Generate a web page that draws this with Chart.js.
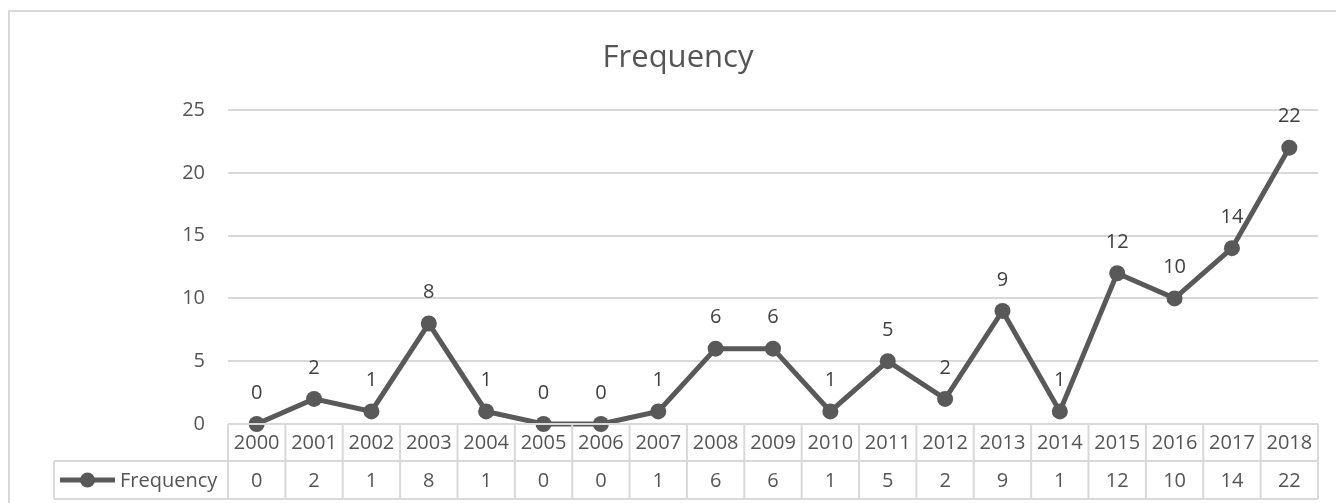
<!DOCTYPE html>
<html><head><meta charset="utf-8">
<script src="https://cdn.jsdelivr.net/npm/chart.js@4"></script>
<style>html,body{margin:0;padding:0;background:#fff;overflow:hidden}#wrap{position:absolute;left:0;top:0;width:1336px;height:503px}</style>
</head><body><div id="wrap"><canvas id="c" width="1336" height="503"></canvas></div>
<script>
const chartTitle = 'Frequency';
const seriesName = 'Frequency';
const categories = ['2000','2001','2002','2003','2004','2005','2006','2007','2008','2009','2010','2011','2012','2013','2014','2015','2016','2017','2018'];
const frequency = [0,2,1,8,1,0,0,1,6,6,1,5,2,9,1,12,10,14,22];
const yTicks = [0,5,10,15,20,25];

const FONT = '"Open Sans", "Liberation Sans", sans-serif';
const TXT = '#555555';
const GRID = '#d9d9d9';
const LINE = '#595959';

const frame = {
  id: 'frame',
  beforeDraw(chart) {
    const ctx = chart.ctx;
    ctx.save();
    ctx.fillStyle = '#fff';
    ctx.fillRect(0, 0, chart.width, chart.height);
    ctx.strokeStyle = GRID; ctx.lineWidth = 2;
    ctx.strokeRect(9, 11, chart.width + 20, chart.height + 20);
    ctx.font = '31px ' + FONT;
    ctx.fillStyle = TXT;
    ctx.textAlign = 'center'; ctx.textBaseline = 'alphabetic';
    ctx.fillText(chartTitle, 678, 67);
    ctx.restore();
  }
};

const dataLabels = {
  id: 'dataLabels',
  afterDatasetsDraw(chart) {
    const ctx = chart.ctx;
    const meta = chart.getDatasetMeta(0);
    ctx.save();
    ctx.font = '20px ' + FONT;
    ctx.fillStyle = '#404040';
    ctx.textAlign = 'center'; ctx.textBaseline = 'middle';
    meta.data.forEach((pt, i) => {
      ctx.fillText(String(frequency[i]), pt.x, pt.y - 31);
    });
    ctx.restore();
  }
};

const dataTable = {
  id: 'dataTable',
  afterDraw(chart) {
    const ctx = chart.ctx;
    const xs = chart.scales.x;
    const area = chart.chartArea;
    const n = categories.length;
    const w = xs.getPixelForValue(1) - xs.getPixelForValue(0);
    const top = area.bottom, mid = top + 37, bot = top + 75;
    const legendLeft = 54;
    const left = xs.getPixelForValue(0) - w / 2;
    const right = xs.getPixelForValue(n - 1) + w / 2;
    ctx.save();
    ctx.strokeStyle = GRID; ctx.lineWidth = 2;
    ctx.beginPath();
    ctx.moveTo(left, top); ctx.lineTo(right, top);
    ctx.moveTo(legendLeft, mid); ctx.lineTo(right, mid);
    ctx.moveTo(legendLeft, bot); ctx.lineTo(right, bot);
    for (let i = 0; i <= n; i++) {
      const x = left + i * w;
      ctx.moveTo(x, top); ctx.lineTo(x, bot);
    }
    ctx.moveTo(legendLeft, mid); ctx.lineTo(legendLeft, bot);
    ctx.stroke();
    ctx.font = '20px ' + FONT;
    ctx.fillStyle = TXT;
    ctx.textAlign = 'center'; ctx.textBaseline = 'middle';
    for (let i = 0; i < n; i++) {
      const cx = xs.getPixelForValue(i);
      ctx.fillText(categories[i], cx, (top + mid) / 2 + 1);
      ctx.fillText(String(frequency[i]), cx, (mid + bot) / 2 + 1);
    }
    // legend key
    const ly = (mid + bot) / 2;
    ctx.strokeStyle = LINE; ctx.lineWidth = 5;
    ctx.beginPath(); ctx.moveTo(60, ly); ctx.lineTo(115, ly); ctx.stroke();
    ctx.fillStyle = LINE;
    ctx.beginPath(); ctx.arc(87.5, ly, 7.5, 0, Math.PI * 2); ctx.fill();
    ctx.fillStyle = TXT; ctx.textAlign = 'left';
    ctx.fillText(seriesName, 120, ly + 1);
    ctx.restore();
  }
};

new Chart(document.getElementById('c'), {
  type: 'line',
  data: {
    labels: categories,
    datasets: [{
      label: seriesName,
      data: frequency,
      borderColor: LINE,
      backgroundColor: LINE,
      borderWidth: 5,
      pointRadius: 8,
      pointBackgroundColor: LINE,
      pointBorderWidth: 0,
      tension: 0,
      clip: false
    }]
  },
  options: {
    responsive: false,
    devicePixelRatio: 1,
    animation: false,
    layout: { padding: { left: 0, right: 18, top: 110, bottom: 0 } },
    plugins: {
      legend: { display: false },
      tooltip: { enabled: false },
      title: { display: false }
    },
    scales: {
      x: {
        type: 'category', offset: true,
        grid: { display: false }, border: { display: false },
        ticks: { display: false },
        afterFit(s) { s.height = 79; }
      },
      y: {
        min: 0, max: 25,
        afterBuildTicks(s) { s.ticks = yTicks.map(v => ({ value: v })); },
        grid: { color: GRID, lineWidth: 2, drawTicks: false },
        border: { display: false },
        ticks: { color: TXT, font: { family: FONT, size: 20 }, padding: 23 },
        afterFit(s) { s.width = 228; }
      }
    }
  },
  plugins: [frame, dataLabels, dataTable]
});
</script></body></html>
